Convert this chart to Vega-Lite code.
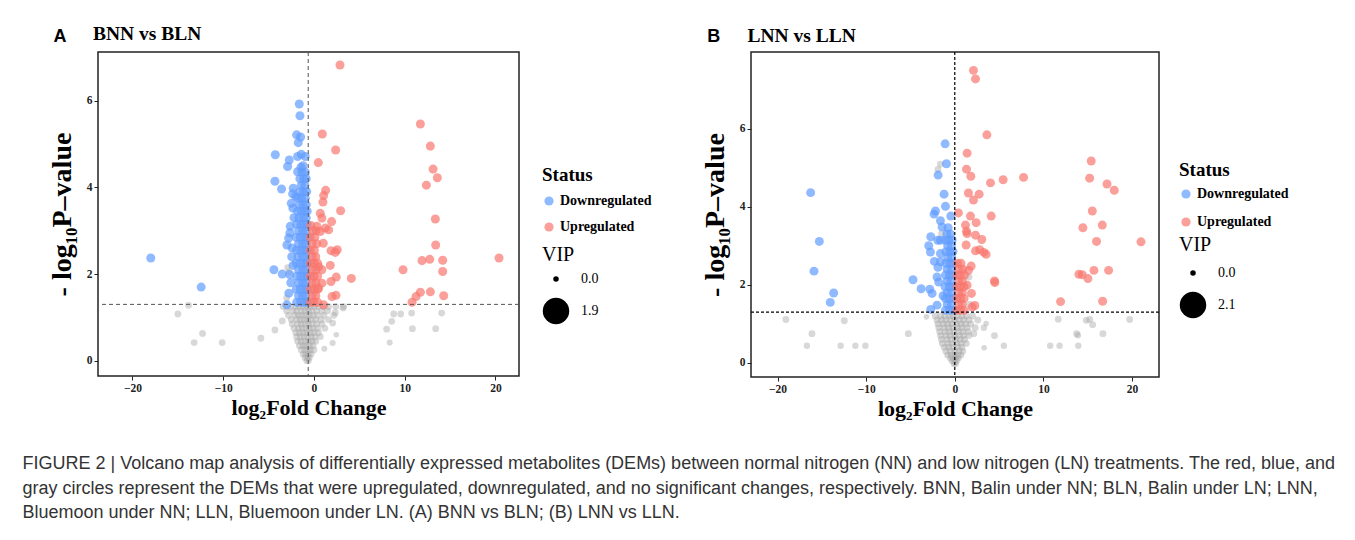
{
"$schema":"https://vega.github.io/schema/vega-lite/v6.json",
"padding":{"left":22,"top":23,"right":5,"bottom":5},
"background":"white",
"config":{
 "view":{"stroke":"#222","strokeWidth":1.5},
 "axis":{"grid":false,"domain":false,"tickColor":"#222","tickSize":4,"labelFont":"Liberation Serif","labelFontWeight":"bold","labelFontSize":11.5,"labelColor":"#222","labelPadding":2,"titleFont":"Liberation Serif","titleFontWeight":"bold","titleColor":"black"},
 "legend":{"titleFont":"Liberation Serif","labelFont":"Liberation Serif","titleColor":"black","labelColor":"black","titlePadding":4}
},
"title":{"text":["FIGURE 2 | Volcano map analysis of differentially expressed metabolites (DEMs) between normal nitrogen (NN) and low nitrogen (LN) treatments. The red, blue, and","gray circles represent the DEMs that were upregulated, downregulated, and no significant changes, respectively. BNN, Balin under NN; BLN, Balin under LN; LNN,","Bluemoon under NN; LLN, Bluemoon under LN. (A) BNN vs BLN; (B) LNN vs LLN."],"orient":"bottom","anchor":"start","frame":"bounds","font":"Liberation Sans","fontSize":18,"fontWeight":"normal","color":"#333","lineHeight":24.5,"offset":35,"dx":-25},
"datasets":{
"A":[
{"x":-17.98,"y":2.37,"s":"Down","v":1},{"x":-12.43,"y":1.70,"s":"Down","v":1},{"x":-4.26,"y":4.75,"s":"Down","v":1},{"x":-4.30,"y":4.14,"s":"Down","v":1},{"x":-3.57,"y":3.96,"s":"Down","v":1},{"x":-2.72,"y":4.63,"s":"Down","v":1},{"x":-2.90,"y":4.48,"s":"Down","v":1},{"x":-4.41,"y":2.10,"s":"Down","v":1},{"x":-3.49,"y":2.00,"s":"Down","v":1},{"x":-1.62,"y":5.92,"s":"Down","v":1},{"x":-1.54,"y":5.65,"s":"Down","v":1},{"x":-1.91,"y":5.21,"s":"Down","v":1},{"x":-1.47,"y":5.16,"s":"Down","v":1},{"x":-1.73,"y":5.03,"s":"Down","v":1},{"x":-1.40,"y":4.76,"s":"Down","v":1},{"x":-0.96,"y":4.71,"s":"Down","v":1},{"x":-1.80,"y":4.71,"s":"Down","v":1},{"x":-1.43,"y":4.46,"s":"Down","v":1},{"x":-1.80,"y":4.36,"s":"Down","v":1},{"x":-2.28,"y":3.98,"s":"Down","v":1},{"x":-2.35,"y":3.85,"s":"Down","v":1},{"x":-2.50,"y":3.63,"s":"Down","v":1},{"x":-2.32,"y":3.52,"s":"Down","v":1},{"x":-2.02,"y":3.79,"s":"Down","v":1},{"x":-2.98,"y":2.67,"s":"Down","v":1},{"x":-2.79,"y":2.83,"s":"Down","v":1},{"x":-2.61,"y":3.10,"s":"Down","v":1},{"x":-2.68,"y":1.99,"s":"Down","v":1},{"x":-2.76,"y":1.56,"s":"Down","v":1},{"x":-2.98,"y":1.29,"s":"Down","v":1},{"x":-2.45,"y":2.40,"s":"Down","v":1},{"x":-2.55,"y":1.80,"s":"Down","v":1},{"x":-2.30,"y":2.20,"s":"Down","v":1},{"x":-2.20,"y":3.30,"s":"Down","v":1},{"x":-2.65,"y":2.95,"s":"Down","v":1},{"x":-2.40,"y":2.60,"s":"Down","v":1},
{"x":-1.9,"y":1.35,"s":"Down","v":1},{"x":-1.45,"y":1.35,"s":"Down","v":1},{"x":-1.05,"y":1.35,"s":"Down","v":1},{"x":-0.75,"y":1.35,"s":"Down","v":1},
{"x":-1.7,"y":1.5,"s":"Down","v":1},{"x":-1.25,"y":1.5,"s":"Down","v":1},{"x":-0.85,"y":1.5,"s":"Down","v":1},
{"x":-1.95,"y":1.65,"s":"Down","v":1},{"x":-1.5,"y":1.65,"s":"Down","v":1},{"x":-1.05,"y":1.65,"s":"Down","v":1},{"x":-0.75,"y":1.65,"s":"Down","v":1},
{"x":-1.7,"y":1.8,"s":"Down","v":1},{"x":-1.25,"y":1.8,"s":"Down","v":1},{"x":-0.85,"y":1.8,"s":"Down","v":1},
{"x":-1.9,"y":1.95,"s":"Down","v":1},{"x":-1.45,"y":1.95,"s":"Down","v":1},{"x":-1.05,"y":1.95,"s":"Down","v":1},{"x":-0.75,"y":1.95,"s":"Down","v":1},
{"x":-1.7,"y":2.1,"s":"Down","v":1},{"x":-1.25,"y":2.1,"s":"Down","v":1},{"x":-0.85,"y":2.1,"s":"Down","v":1},
{"x":-1.95,"y":2.25,"s":"Down","v":1},{"x":-1.5,"y":2.25,"s":"Down","v":1},{"x":-1.05,"y":2.25,"s":"Down","v":1},{"x":-0.75,"y":2.25,"s":"Down","v":1},
{"x":-1.75,"y":2.4,"s":"Down","v":1},{"x":-1.25,"y":2.4,"s":"Down","v":1},{"x":-0.85,"y":2.4,"s":"Down","v":1},
{"x":-1.9,"y":2.55,"s":"Down","v":1},{"x":-1.45,"y":2.55,"s":"Down","v":1},{"x":-1.05,"y":2.55,"s":"Down","v":1},{"x":-0.75,"y":2.55,"s":"Down","v":1},
{"x":-1.7,"y":2.7,"s":"Down","v":1},{"x":-1.25,"y":2.7,"s":"Down","v":1},{"x":-0.85,"y":2.7,"s":"Down","v":1},
{"x":-1.95,"y":2.85,"s":"Down","v":1},{"x":-1.5,"y":2.85,"s":"Down","v":1},{"x":-1.05,"y":2.85,"s":"Down","v":1},{"x":-0.75,"y":2.85,"s":"Down","v":1},
{"x":-1.7,"y":3.0,"s":"Down","v":1},{"x":-1.25,"y":3.0,"s":"Down","v":1},{"x":-0.85,"y":3.0,"s":"Down","v":1},
{"x":-1.9,"y":3.15,"s":"Down","v":1},{"x":-1.45,"y":3.15,"s":"Down","v":1},{"x":-1.05,"y":3.15,"s":"Down","v":1},{"x":-0.75,"y":3.15,"s":"Down","v":1},
{"x":-1.65,"y":3.3,"s":"Down","v":1},{"x":-1.2,"y":3.3,"s":"Down","v":1},{"x":-0.85,"y":3.3,"s":"Down","v":1},
{"x":-1.8,"y":3.45,"s":"Down","v":1},{"x":-1.4,"y":3.45,"s":"Down","v":1},{"x":-1.0,"y":3.45,"s":"Down","v":1},{"x":-0.75,"y":3.45,"s":"Down","v":1},
{"x":-1.6,"y":3.6,"s":"Down","v":1},{"x":-1.2,"y":3.6,"s":"Down","v":1},{"x":-0.85,"y":3.6,"s":"Down","v":1},
{"x":-1.75,"y":3.75,"s":"Down","v":1},{"x":-1.35,"y":3.75,"s":"Down","v":1},{"x":-0.95,"y":3.75,"s":"Down","v":1},
{"x":-1.55,"y":3.9,"s":"Down","v":1},{"x":-1.15,"y":3.9,"s":"Down","v":1},{"x":-0.8,"y":3.9,"s":"Down","v":1},
{"x":-1.4,"y":4.05,"s":"Down","v":1},{"x":-1.0,"y":4.05,"s":"Down","v":1},
{"x":-1.55,"y":4.2,"s":"Down","v":1},{"x":-1.15,"y":4.2,"s":"Down","v":1},{"x":-0.85,"y":4.2,"s":"Down","v":1},
{"x":-1.3,"y":4.35,"s":"Down","v":1},{"x":-0.95,"y":4.35,"s":"Down","v":1},{"x":-1.2,"y":4.5,"s":"Down","v":1},
{"x":2.87,"y":6.82,"s":"Up","v":1},{"x":0.92,"y":5.23,"s":"Up","v":1},{"x":2.39,"y":4.86,"s":"Up","v":1},{"x":0.48,"y":4.57,"s":"Up","v":1},{"x":1.29,"y":3.93,"s":"Up","v":1},{"x":1.07,"y":3.81,"s":"Up","v":1},{"x":0.99,"y":3.66,"s":"Up","v":1},{"x":2.94,"y":3.46,"s":"Up","v":1},{"x":0.70,"y":3.40,"s":"Up","v":1},{"x":0.88,"y":3.29,"s":"Up","v":1},{"x":1.95,"y":3.21,"s":"Up","v":1},{"x":0.33,"y":3.10,"s":"Up","v":1},{"x":1.25,"y":3.06,"s":"Up","v":1},{"x":0.70,"y":2.98,"s":"Up","v":1},{"x":1.62,"y":3.02,"s":"Up","v":1},{"x":1.03,"y":2.71,"s":"Up","v":1},{"x":1.88,"y":2.54,"s":"Up","v":1},{"x":2.57,"y":2.56,"s":"Up","v":1},{"x":2.35,"y":2.50,"s":"Up","v":1},{"x":0.51,"y":2.17,"s":"Up","v":1},{"x":0.88,"y":2.10,"s":"Up","v":1},{"x":1.80,"y":2.20,"s":"Up","v":1},{"x":4.12,"y":1.90,"s":"Up","v":1},{"x":2.46,"y":1.93,"s":"Up","v":1},{"x":1.88,"y":1.83,"s":"Up","v":1},{"x":0.88,"y":1.79,"s":"Up","v":1},{"x":0.51,"y":1.67,"s":"Up","v":1},{"x":2.43,"y":1.51,"s":"Up","v":1},{"x":1.99,"y":1.48,"s":"Up","v":1},{"x":1.07,"y":1.29,"s":"Up","v":1},
{"x":11.73,"y":5.46,"s":"Up","v":1},{"x":12.83,"y":4.95,"s":"Up","v":1},{"x":13.13,"y":4.42,"s":"Up","v":1},{"x":13.60,"y":4.22,"s":"Up","v":1},{"x":12.39,"y":4.05,"s":"Up","v":1},{"x":13.38,"y":3.27,"s":"Up","v":1},{"x":13.42,"y":2.67,"s":"Up","v":1},{"x":20.40,"y":2.37,"s":"Up","v":1},{"x":11.91,"y":2.31,"s":"Up","v":1},{"x":12.76,"y":2.34,"s":"Up","v":1},{"x":14.19,"y":2.32,"s":"Up","v":1},{"x":9.82,"y":2.10,"s":"Up","v":1},{"x":14.19,"y":2.06,"s":"Up","v":1},{"x":11.73,"y":1.58,"s":"Up","v":1},{"x":12.83,"y":1.59,"s":"Up","v":1},{"x":14.30,"y":1.50,"s":"Up","v":1},{"x":11.25,"y":1.48,"s":"Up","v":1},{"x":10.81,"y":1.35,"s":"Up","v":1},
{"x":-0.4,"y":1.35,"s":"Up","v":1},{"x":0,"y":1.35,"s":"Up","v":1},{"x":0.4,"y":1.35,"s":"Up","v":1},{"x":-0.2,"y":1.5,"s":"Up","v":1},{"x":0.2,"y":1.5,"s":"Up","v":1},{"x":-0.4,"y":1.65,"s":"Up","v":1},{"x":0,"y":1.65,"s":"Up","v":1},{"x":0.4,"y":1.65,"s":"Up","v":1},{"x":-0.2,"y":1.8,"s":"Up","v":1},{"x":0.2,"y":1.8,"s":"Up","v":1},{"x":-0.4,"y":1.95,"s":"Up","v":1},{"x":0,"y":1.95,"s":"Up","v":1},{"x":0.4,"y":1.95,"s":"Up","v":1},{"x":-0.2,"y":2.1,"s":"Up","v":1},{"x":0.2,"y":2.1,"s":"Up","v":1},{"x":-0.4,"y":2.25,"s":"Up","v":1},{"x":0,"y":2.25,"s":"Up","v":1},{"x":0.4,"y":2.25,"s":"Up","v":1},{"x":-0.2,"y":2.4,"s":"Up","v":1},{"x":0.2,"y":2.4,"s":"Up","v":1},{"x":-0.4,"y":2.55,"s":"Up","v":1},{"x":0.05,"y":2.55,"s":"Up","v":1},{"x":-0.2,"y":2.7,"s":"Up","v":1},{"x":0.3,"y":2.7,"s":"Up","v":1},{"x":-0.4,"y":2.85,"s":"Up","v":1},{"x":0.1,"y":2.85,"s":"Up","v":1},{"x":-0.15,"y":3.0,"s":"Up","v":1},{"x":0.25,"y":3.0,"s":"Up","v":1},{"x":-0.35,"y":3.12,"s":"Up","v":1},
{"x":-13.82,"y":1.28,"s":"NS","v":0.75},{"x":-15.0,"y":1.08,"s":"NS","v":0.75},{"x":-12.28,"y":0.63,"s":"NS","v":0.75},{"x":-13.2,"y":0.42,"s":"NS","v":0.75},{"x":-10.11,"y":0.42,"s":"NS","v":0.75},{"x":-5.85,"y":0.52,"s":"NS","v":0.75},{"x":-4.30,"y":0.71,"s":"NS","v":0.75},{"x":-3.49,"y":0.92,"s":"NS","v":0.75},{"x":3.27,"y":1.25,"s":"NS","v":0.75},{"x":2.35,"y":1.11,"s":"NS","v":0.75},{"x":2.06,"y":0.87,"s":"NS","v":0.75},{"x":2.46,"y":0.60,"s":"NS","v":0.4},{"x":2.06,"y":0.41,"s":"NS","v":0.6},{"x":1.14,"y":0.28,"s":"NS","v":0.6},{"x":0.70,"y":0.56,"s":"NS","v":0.75},{"x":8.79,"y":1.08,"s":"NS","v":0.75},{"x":9.56,"y":1.08,"s":"NS","v":0.75},{"x":10.77,"y":1.10,"s":"NS","v":0.75},{"x":14.08,"y":1.10,"s":"NS","v":0.75},{"x":8.57,"y":0.91,"s":"NS","v":0.75},{"x":8.01,"y":0.73,"s":"NS","v":0.75},{"x":10.85,"y":0.74,"s":"NS","v":0.75},{"x":13.42,"y":0.74,"s":"NS","v":0.75},{"x":8.35,"y":0.42,"s":"NS","v":0.6},{"x":-2.9,"y":2.15,"s":"NS","v":0.75},{"x":-2.75,"y":2.05,"s":"NS","v":0.75},{"x":-3.0,"y":1.45,"s":"NS","v":0.75},{"x":3.2,"y":1.22,"s":"NS","v":0.75},
{"x":-3.4,"y":1.25,"s":"NS","v":0.75},{"x":-2.6,"y":1.25,"s":"NS","v":0.75},{"x":-2.0,"y":1.25,"s":"NS","v":0.75},{"x":-1.6,"y":1.25,"s":"NS","v":0.75},{"x":-1.2,"y":1.25,"s":"NS","v":0.75},{"x":-0.8,"y":1.25,"s":"NS","v":0.75},{"x":-0.4,"y":1.25,"s":"NS","v":0.75},{"x":0,"y":1.25,"s":"NS","v":0.75},{"x":0.5,"y":1.25,"s":"NS","v":0.75},{"x":1.0,"y":1.25,"s":"NS","v":0.75},{"x":1.6,"y":1.25,"s":"NS","v":0.75},{"x":2.4,"y":1.25,"s":"NS","v":0.75},
{"x":-3.0,"y":1.15,"s":"NS","v":0.75},{"x":-2.3,"y":1.15,"s":"NS","v":0.75},{"x":-1.9,"y":1.15,"s":"NS","v":0.75},{"x":-1.4,"y":1.15,"s":"NS","v":0.75},{"x":-1.0,"y":1.15,"s":"NS","v":0.75},{"x":-0.6,"y":1.15,"s":"NS","v":0.75},{"x":-0.2,"y":1.15,"s":"NS","v":0.75},{"x":0.3,"y":1.15,"s":"NS","v":0.75},{"x":0.9,"y":1.15,"s":"NS","v":0.75},{"x":1.5,"y":1.15,"s":"NS","v":0.75},
{"x":-2.8,"y":1.05,"s":"NS","v":0.75},{"x":-2.1,"y":1.05,"s":"NS","v":0.75},{"x":-1.7,"y":1.05,"s":"NS","v":0.75},{"x":-1.3,"y":1.05,"s":"NS","v":0.75},{"x":-0.9,"y":1.05,"s":"NS","v":0.75},{"x":-0.5,"y":1.05,"s":"NS","v":0.75},{"x":-0.1,"y":1.05,"s":"NS","v":0.75},{"x":0.4,"y":1.05,"s":"NS","v":0.75},{"x":1.1,"y":1.05,"s":"NS","v":0.75},{"x":2.2,"y":1.05,"s":"NS","v":0.75},
{"x":-2.5,"y":0.95,"s":"NS","v":0.75},{"x":-1.9,"y":0.95,"s":"NS","v":0.75},{"x":-1.5,"y":0.95,"s":"NS","v":0.75},{"x":-1.1,"y":0.95,"s":"NS","v":0.75},{"x":-0.7,"y":0.95,"s":"NS","v":0.75},{"x":-0.3,"y":0.95,"s":"NS","v":0.75},{"x":0.2,"y":0.95,"s":"NS","v":0.75},{"x":0.8,"y":0.95,"s":"NS","v":0.75},{"x":1.6,"y":0.95,"s":"NS","v":0.75},
{"x":-2.4,"y":0.85,"s":"NS","v":0.75},{"x":-1.8,"y":0.85,"s":"NS","v":0.75},{"x":-1.4,"y":0.85,"s":"NS","v":0.75},{"x":-1.0,"y":0.85,"s":"NS","v":0.75},{"x":-0.6,"y":0.85,"s":"NS","v":0.75},{"x":-0.2,"y":0.85,"s":"NS","v":0.75},{"x":0.3,"y":0.85,"s":"NS","v":0.75},{"x":0.9,"y":0.85,"s":"NS","v":0.75},
{"x":-2.2,"y":0.75,"s":"NS","v":0.75},{"x":-1.7,"y":0.75,"s":"NS","v":0.75},{"x":-1.3,"y":0.75,"s":"NS","v":0.75},{"x":-0.9,"y":0.75,"s":"NS","v":0.75},{"x":-0.5,"y":0.75,"s":"NS","v":0.75},{"x":-0.1,"y":0.75,"s":"NS","v":0.75},{"x":0.4,"y":0.75,"s":"NS","v":0.75},{"x":1.2,"y":0.75,"s":"NS","v":0.75},
{"x":-2.0,"y":0.65,"s":"NS","v":0.75},{"x":-1.6,"y":0.65,"s":"NS","v":0.75},{"x":-1.2,"y":0.65,"s":"NS","v":0.75},{"x":-0.8,"y":0.65,"s":"NS","v":0.75},{"x":-0.4,"y":0.65,"s":"NS","v":0.75},{"x":0.0,"y":0.65,"s":"NS","v":0.75},{"x":0.5,"y":0.65,"s":"NS","v":0.75},
{"x":-1.9,"y":0.55,"s":"NS","v":0.75},{"x":-1.5,"y":0.55,"s":"NS","v":0.75},{"x":-1.1,"y":0.55,"s":"NS","v":0.75},{"x":-0.7,"y":0.55,"s":"NS","v":0.75},{"x":-0.3,"y":0.55,"s":"NS","v":0.75},{"x":0.1,"y":0.55,"s":"NS","v":0.75},
{"x":-1.8,"y":0.45,"s":"NS","v":0.75},{"x":-1.4,"y":0.45,"s":"NS","v":0.75},{"x":-1.0,"y":0.45,"s":"NS","v":0.75},{"x":-0.6,"y":0.45,"s":"NS","v":0.75},{"x":-0.2,"y":0.45,"s":"NS","v":0.75},{"x":0.2,"y":0.45,"s":"NS","v":0.75},
{"x":-1.6,"y":0.35,"s":"NS","v":0.75},{"x":-1.2,"y":0.35,"s":"NS","v":0.75},{"x":-0.9,"y":0.35,"s":"NS","v":0.75},{"x":-0.5,"y":0.35,"s":"NS","v":0.75},{"x":-0.1,"y":0.35,"s":"NS","v":0.75},
{"x":-1.4,"y":0.25,"s":"NS","v":0.75},{"x":-1.0,"y":0.25,"s":"NS","v":0.75},{"x":-0.7,"y":0.25,"s":"NS","v":0.75},{"x":-0.4,"y":0.25,"s":"NS","v":0.75},{"x":0.0,"y":0.25,"s":"NS","v":0.75},
{"x":-1.2,"y":0.15,"s":"NS","v":0.7},{"x":-0.9,"y":0.15,"s":"NS","v":0.7},{"x":-0.6,"y":0.15,"s":"NS","v":0.7},{"x":-0.3,"y":0.15,"s":"NS","v":0.7},
{"x":-1.0,"y":0.07,"s":"NS","v":0.7},{"x":-0.7,"y":0.07,"s":"NS","v":0.7},{"x":-0.5,"y":0.07,"s":"NS","v":0.7},{"x":-0.8,"y":0.0,"s":"NS","v":0.7},{"x":-0.6,"y":0.0,"s":"NS","v":0.7}
],
"B":[
{"x":-16.27,"y":4.36,"s":"Down","v":1.1},{"x":-15.29,"y":3.11,"s":"Down","v":1.1},{"x":-15.89,"y":2.35,"s":"Down","v":1.1},{"x":-13.67,"y":1.79,"s":"Down","v":1.1},{"x":-14.05,"y":1.55,"s":"Down","v":1.1},{"x":-1.09,"y":5.61,"s":"Down","v":1.1},{"x":-0.94,"y":5.10,"s":"Down","v":1.1},{"x":-1.88,"y":4.81,"s":"Down","v":1.1},{"x":-1.21,"y":4.32,"s":"Down","v":1.1},{"x":-1.05,"y":4.01,"s":"Down","v":1.1},{"x":-2.18,"y":3.89,"s":"Down","v":1.1},{"x":-2.34,"y":3.81,"s":"Down","v":1.1},{"x":-0.45,"y":3.76,"s":"Down","v":1.1},{"x":-1.62,"y":3.64,"s":"Down","v":1.1},{"x":-1.43,"y":3.48,"s":"Down","v":1.1},{"x":-0.75,"y":3.46,"s":"Down","v":1.1},{"x":-2.71,"y":3.23,"s":"Down","v":1.1},{"x":-1.92,"y":3.14,"s":"Down","v":1.1},{"x":-1.62,"y":3.14,"s":"Down","v":1.1},{"x":-1.05,"y":3.14,"s":"Down","v":1.1},{"x":-2.94,"y":3.0,"s":"Down","v":1.1},{"x":-2.75,"y":2.84,"s":"Down","v":1.1},{"x":-1.62,"y":2.80,"s":"Down","v":1.1},{"x":-1.62,"y":2.59,"s":"Down","v":1.1},{"x":-4.71,"y":2.13,"s":"Down","v":1.1},{"x":-3.80,"y":1.90,"s":"Down","v":1.1},{"x":-2.82,"y":1.89,"s":"Down","v":1.1},{"x":-2.56,"y":1.78,"s":"Down","v":1.1},{"x":-2.0,"y":2.2,"s":"Down","v":1.1},{"x":-1.81,"y":2.07,"s":"Down","v":1.1},{"x":-1.32,"y":1.72,"s":"Down","v":1.1},{"x":-2.0,"y":1.48,"s":"Down","v":1.1},{"x":-2.71,"y":1.37,"s":"Down","v":1.1},{"x":-1.9,"y":2.45,"s":"Down","v":1.1},{"x":-2.3,"y":2.6,"s":"Down","v":1.1},
{"x":-1.05,"y":1.35,"s":"Down","v":1.1},{"x":-0.6,"y":1.35,"s":"Down","v":1.1},{"x":-0.2,"y":1.35,"s":"Down","v":1.1},{"x":-0.85,"y":1.5,"s":"Down","v":1.1},{"x":-0.4,"y":1.5,"s":"Down","v":1.1},{"x":-1.05,"y":1.65,"s":"Down","v":1.1},{"x":-0.6,"y":1.65,"s":"Down","v":1.1},{"x":-0.2,"y":1.65,"s":"Down","v":1.1},{"x":-0.85,"y":1.8,"s":"Down","v":1.1},{"x":-0.4,"y":1.8,"s":"Down","v":1.1},{"x":-1.1,"y":1.95,"s":"Down","v":1.1},{"x":-0.6,"y":1.95,"s":"Down","v":1.1},{"x":-0.2,"y":1.95,"s":"Down","v":1.1},{"x":-0.85,"y":2.1,"s":"Down","v":1.1},{"x":-0.4,"y":2.1,"s":"Down","v":1.1},{"x":-1.05,"y":2.25,"s":"Down","v":1.1},{"x":-0.6,"y":2.25,"s":"Down","v":1.1},{"x":-0.2,"y":2.25,"s":"Down","v":1.1},{"x":-0.85,"y":2.4,"s":"Down","v":1.1},{"x":-0.4,"y":2.4,"s":"Down","v":1.1},{"x":-1.0,"y":2.55,"s":"Down","v":1.1},{"x":-0.55,"y":2.55,"s":"Down","v":1.1},{"x":-0.2,"y":2.55,"s":"Down","v":1.1},{"x":-0.8,"y":2.7,"s":"Down","v":1.1},{"x":-0.35,"y":2.7,"s":"Down","v":1.1},{"x":-1.0,"y":2.85,"s":"Down","v":1.1},{"x":-0.55,"y":2.85,"s":"Down","v":1.1},{"x":-0.2,"y":2.85,"s":"Down","v":1.1},{"x":-0.8,"y":3.0,"s":"Down","v":1.1},{"x":-0.4,"y":3.0,"s":"Down","v":1.1},{"x":-0.7,"y":3.15,"s":"Down","v":1.1},{"x":-0.3,"y":3.15,"s":"Down","v":1.1},{"x":-0.9,"y":3.3,"s":"Down","v":1.1},{"x":-0.5,"y":3.3,"s":"Down","v":1.1},
{"x":2.11,"y":7.49,"s":"Up","v":1.1},{"x":2.34,"y":7.27,"s":"Up","v":1.1},{"x":3.62,"y":5.84,"s":"Up","v":1.1},{"x":1.39,"y":5.37,"s":"Up","v":1.1},{"x":1.32,"y":4.96,"s":"Up","v":1.1},{"x":1.81,"y":4.78,"s":"Up","v":1.1},{"x":4.03,"y":4.61,"s":"Up","v":1.1},{"x":5.46,"y":4.69,"s":"Up","v":1.1},{"x":7.76,"y":4.75,"s":"Up","v":1.1},{"x":1.54,"y":4.35,"s":"Up","v":1.1},{"x":2.75,"y":4.32,"s":"Up","v":1.1},{"x":2.11,"y":4.17,"s":"Up","v":1.1},{"x":0.41,"y":3.84,"s":"Up","v":1.1},{"x":1.77,"y":3.76,"s":"Up","v":1.1},{"x":4.11,"y":3.76,"s":"Up","v":1.1},{"x":2.41,"y":3.59,"s":"Up","v":1.1},{"x":1.21,"y":3.53,"s":"Up","v":1.1},{"x":1.32,"y":3.37,"s":"Up","v":1.1},{"x":1.39,"y":3.31,"s":"Up","v":1.1},{"x":2.34,"y":3.27,"s":"Up","v":1.1},{"x":3.05,"y":3.16,"s":"Up","v":1.1},{"x":1.28,"y":3.02,"s":"Up","v":1.1},{"x":2.34,"y":2.87,"s":"Up","v":1.1},{"x":2.82,"y":2.90,"s":"Up","v":1.1},{"x":3.28,"y":2.83,"s":"Up","v":1.1},{"x":3.54,"y":2.78,"s":"Up","v":1.1},{"x":1.85,"y":2.48,"s":"Up","v":1.1},{"x":1.54,"y":2.37,"s":"Up","v":1.1},{"x":4.48,"y":2.10,"s":"Up","v":1.1},{"x":4.52,"y":2.06,"s":"Up","v":1.1},{"x":1.39,"y":1.99,"s":"Up","v":1.1},{"x":1.88,"y":1.78,"s":"Up","v":1.1},{"x":2.26,"y":1.47,"s":"Up","v":1.1},{"x":1.96,"y":1.43,"s":"Up","v":1.1},
{"x":15.40,"y":5.17,"s":"Up","v":1.1},{"x":15.22,"y":4.73,"s":"Up","v":1.1},{"x":17.18,"y":4.58,"s":"Up","v":1.1},{"x":18.0,"y":4.42,"s":"Up","v":1.1},{"x":15.52,"y":3.89,"s":"Up","v":1.1},{"x":16.65,"y":3.53,"s":"Up","v":1.1},{"x":14.46,"y":3.46,"s":"Up","v":1.1},{"x":16.0,"y":3.11,"s":"Up","v":1.1},{"x":21.02,"y":3.10,"s":"Up","v":1.1},{"x":15.71,"y":2.37,"s":"Up","v":1.1},{"x":17.36,"y":2.37,"s":"Up","v":1.1},{"x":14.01,"y":2.27,"s":"Up","v":1.1},{"x":14.39,"y":2.26,"s":"Up","v":1.1},{"x":15.03,"y":2.16,"s":"Up","v":1.1},{"x":11.94,"y":1.57,"s":"Up","v":1.1},{"x":16.69,"y":1.58,"s":"Up","v":1.1},
{"x":0.25,"y":1.35,"s":"Up","v":1.1},{"x":0.65,"y":1.35,"s":"Up","v":1.1},{"x":1.05,"y":1.35,"s":"Up","v":1.1},{"x":0.45,"y":1.5,"s":"Up","v":1.1},{"x":0.85,"y":1.5,"s":"Up","v":1.1},{"x":0.25,"y":1.65,"s":"Up","v":1.1},{"x":0.65,"y":1.65,"s":"Up","v":1.1},{"x":1.05,"y":1.65,"s":"Up","v":1.1},{"x":0.45,"y":1.8,"s":"Up","v":1.1},{"x":0.85,"y":1.8,"s":"Up","v":1.1},{"x":0.25,"y":1.95,"s":"Up","v":1.1},{"x":0.65,"y":1.95,"s":"Up","v":1.1},{"x":1.05,"y":1.95,"s":"Up","v":1.1},{"x":0.45,"y":2.1,"s":"Up","v":1.1},{"x":0.85,"y":2.1,"s":"Up","v":1.1},{"x":0.25,"y":2.25,"s":"Up","v":1.1},{"x":0.65,"y":2.25,"s":"Up","v":1.1},{"x":1.1,"y":2.25,"s":"Up","v":1.1},{"x":0.45,"y":2.4,"s":"Up","v":1.1},{"x":0.9,"y":2.4,"s":"Up","v":1.1},{"x":0.3,"y":2.55,"s":"Up","v":1.1},{"x":0.7,"y":2.55,"s":"Up","v":1.1},
{"x":-19.06,"y":1.11,"s":"NS","v":0.85},{"x":-12.47,"y":1.08,"s":"NS","v":0.85},{"x":-16.12,"y":0.75,"s":"NS","v":0.85},{"x":-16.69,"y":0.44,"s":"NS","v":0.75},{"x":-12.88,"y":0.44,"s":"NS","v":0.75},{"x":-11.22,"y":0.44,"s":"NS","v":0.75},{"x":-10.09,"y":0.44,"s":"NS","v":0.75},{"x":-5.24,"y":0.75,"s":"NS","v":0.85},{"x":-3.20,"y":1.18,"s":"NS","v":0.45},{"x":4.48,"y":0.70,"s":"NS","v":0.85},{"x":5.54,"y":0.44,"s":"NS","v":0.75},{"x":3.31,"y":0.39,"s":"NS","v":0.45},{"x":3.54,"y":1.01,"s":"NS","v":0.45},{"x":3.28,"y":0.90,"s":"NS","v":0.75},{"x":2.15,"y":0.75,"s":"NS","v":0.85},{"x":11.68,"y":1.12,"s":"NS","v":0.85},{"x":14.84,"y":1.09,"s":"NS","v":0.85},{"x":15.22,"y":1.11,"s":"NS","v":0.85},{"x":15.56,"y":0.98,"s":"NS","v":0.85},{"x":19.74,"y":1.11,"s":"NS","v":0.85},{"x":13.75,"y":0.75,"s":"NS","v":0.85},{"x":13.9,"y":0.71,"s":"NS","v":0.75},{"x":16.72,"y":0.75,"s":"NS","v":0.85},{"x":10.77,"y":0.44,"s":"NS","v":0.75},{"x":11.83,"y":0.44,"s":"NS","v":0.75},{"x":13.94,"y":0.44,"s":"NS","v":0.75},{"x":-1.62,"y":5.09,"s":"NS","v":0.85},{"x":-1.9,"y":4.95,"s":"NS","v":0.85},{"x":-1.5,"y":3.3,"s":"NS","v":0.85},{"x":1.6,"y":2.2,"s":"NS","v":0.85},{"x":1.7,"y":1.5,"s":"NS","v":0.85},
{"x":-2.2,"y":1.2,"s":"NS","v":0.85},{"x":-1.6,"y":1.2,"s":"NS","v":0.85},{"x":-1.1,"y":1.2,"s":"NS","v":0.85},{"x":-0.6,"y":1.2,"s":"NS","v":0.85},{"x":-0.2,"y":1.2,"s":"NS","v":0.85},{"x":0.3,"y":1.2,"s":"NS","v":0.85},{"x":0.8,"y":1.2,"s":"NS","v":0.85},{"x":1.3,"y":1.2,"s":"NS","v":0.85},{"x":2.0,"y":1.2,"s":"NS","v":0.85},
{"x":-2.0,"y":1.1,"s":"NS","v":0.85},{"x":-1.5,"y":1.1,"s":"NS","v":0.85},{"x":-1.0,"y":1.1,"s":"NS","v":0.85},{"x":-0.5,"y":1.1,"s":"NS","v":0.85},{"x":0,"y":1.1,"s":"NS","v":0.85},{"x":0.5,"y":1.1,"s":"NS","v":0.85},{"x":1.0,"y":1.1,"s":"NS","v":0.85},{"x":1.6,"y":1.1,"s":"NS","v":0.85},{"x":2.6,"y":1.1,"s":"NS","v":0.85},
{"x":-1.9,"y":1.0,"s":"NS","v":0.85},{"x":-1.3,"y":1.0,"s":"NS","v":0.85},{"x":-0.8,"y":1.0,"s":"NS","v":0.85},{"x":-0.3,"y":1.0,"s":"NS","v":0.85},{"x":0.2,"y":1.0,"s":"NS","v":0.85},{"x":0.7,"y":1.0,"s":"NS","v":0.85},{"x":1.2,"y":1.0,"s":"NS","v":0.85},{"x":1.8,"y":1.0,"s":"NS","v":0.85},
{"x":-1.8,"y":0.9,"s":"NS","v":0.85},{"x":-1.2,"y":0.9,"s":"NS","v":0.85},{"x":-0.7,"y":0.9,"s":"NS","v":0.85},{"x":-0.2,"y":0.9,"s":"NS","v":0.85},{"x":0.3,"y":0.9,"s":"NS","v":0.85},{"x":0.8,"y":0.9,"s":"NS","v":0.85},{"x":1.4,"y":0.9,"s":"NS","v":0.85},{"x":2.3,"y":0.9,"s":"NS","v":0.85},
{"x":-1.7,"y":0.8,"s":"NS","v":0.85},{"x":-1.1,"y":0.8,"s":"NS","v":0.85},{"x":-0.6,"y":0.8,"s":"NS","v":0.85},{"x":-0.1,"y":0.8,"s":"NS","v":0.85},{"x":0.4,"y":0.8,"s":"NS","v":0.85},{"x":0.9,"y":0.8,"s":"NS","v":0.85},{"x":1.5,"y":0.8,"s":"NS","v":0.85},
{"x":-1.6,"y":0.7,"s":"NS","v":0.85},{"x":-1.0,"y":0.7,"s":"NS","v":0.85},{"x":-0.5,"y":0.7,"s":"NS","v":0.85},{"x":0,"y":0.7,"s":"NS","v":0.85},{"x":0.5,"y":0.7,"s":"NS","v":0.85},{"x":1.0,"y":0.7,"s":"NS","v":0.85},{"x":1.6,"y":0.7,"s":"NS","v":0.85},
{"x":-1.5,"y":0.6,"s":"NS","v":0.85},{"x":-0.9,"y":0.6,"s":"NS","v":0.85},{"x":-0.4,"y":0.6,"s":"NS","v":0.85},{"x":0.1,"y":0.6,"s":"NS","v":0.85},{"x":0.6,"y":0.6,"s":"NS","v":0.85},{"x":1.1,"y":0.6,"s":"NS","v":0.85},
{"x":-1.4,"y":0.5,"s":"NS","v":0.85},{"x":-0.8,"y":0.5,"s":"NS","v":0.85},{"x":-0.3,"y":0.5,"s":"NS","v":0.85},{"x":0.2,"y":0.5,"s":"NS","v":0.85},{"x":0.7,"y":0.5,"s":"NS","v":0.85},{"x":1.3,"y":0.5,"s":"NS","v":0.85},
{"x":-1.2,"y":0.4,"s":"NS","v":0.85},{"x":-0.7,"y":0.4,"s":"NS","v":0.85},{"x":-0.2,"y":0.4,"s":"NS","v":0.85},{"x":0.3,"y":0.4,"s":"NS","v":0.85},{"x":0.8,"y":0.4,"s":"NS","v":0.85},
{"x":-1.0,"y":0.3,"s":"NS","v":0.85},{"x":-0.5,"y":0.3,"s":"NS","v":0.85},{"x":0,"y":0.3,"s":"NS","v":0.85},{"x":0.5,"y":0.3,"s":"NS","v":0.85},{"x":0.9,"y":0.3,"s":"NS","v":0.85},
{"x":-0.8,"y":0.2,"s":"NS","v":0.8},{"x":-0.4,"y":0.2,"s":"NS","v":0.8},{"x":0,"y":0.2,"s":"NS","v":0.8},{"x":0.4,"y":0.2,"s":"NS","v":0.8},{"x":0.7,"y":0.2,"s":"NS","v":0.8},
{"x":-0.5,"y":0.12,"s":"NS","v":0.8},{"x":-0.2,"y":0.12,"s":"NS","v":0.8},{"x":0.1,"y":0.12,"s":"NS","v":0.8},{"x":0.4,"y":0.12,"s":"NS","v":0.8},
{"x":-0.3,"y":0.05,"s":"NS","v":0.8},{"x":0,"y":0.05,"s":"NS","v":0.8},{"x":0.2,"y":0.05,"s":"NS","v":0.8},{"x":-0.1,"y":-0.02,"s":"NS","v":0.8},{"x":0.1,"y":-0.02,"s":"NS","v":0.8}
]
},
"spacing":47,
"hconcat":[
{
 "width":421,"height":324,
 "layer":[
  {"data":{"name":"A"},"transform":[{"filter":"datum.s == 'NS'"}],
   "mark":{"type":"circle","opacity":0.45},
   "encoding":{
    "x":{"field":"x","type":"quantitative","scale":{"domain":[-23.8,22.6],"nice":false,"zero":false},"axis":{"values":[-20,-10,0,10,20],"title":"log₂Fold Change","titleFontSize":22,"titlePadding":4}},
    "y":{"field":"y","type":"quantitative","scale":{"domain":[-0.35,7.12],"nice":false,"zero":false},"axis":{"values":[0,2,4,6],"title":"- log₁₀P–value","titleFontSize":28,"titlePadding":10}},
    "color":{"field":"s","type":"nominal","scale":{"domain":["Down","Up","NS"],"range":["#619CFF","#F8766D","#A9A9A9"]},"legend":{"title":"Status","values":["Down","Up"],"orient":"none","legendX":444,"legendY":114,"labelExpr":"datum.label == 'Down' ? 'Downregulated' : 'Upregulated'","titleFontSize":19,"titleFontWeight":"bold","titlePadding":9,"labelFontSize":14,"labelFontWeight":"bold","symbolOpacity":0.55,"symbolSize":85,"symbolStrokeWidth":0,"rowPadding":12}},
    "size":{"field":"v","type":"quantitative","scale":{"type":"pow","exponent":4,"domain":[0,1.9],"range":[30,700]},"legend":{"title":"VIP","orient":"none","legendX":444,"legendY":193,"values":[0,1.9],"format":".1f","titleFontSize":20,"titleFontWeight":"normal","titlePadding":7,"labelFontSize":14,"labelFontWeight":"normal","labelOffset":11,"rowPadding":8,"symbolFillColor":"black","symbolStrokeColor":"black","symbolOpacity":1,"encode":{"symbols":{"update":{"fill":{"value":"black"},"fillOpacity":{"value":1},"opacity":{"value":1}}}}}}
   }},
  {"data":{"name":"A"},"transform":[{"filter":"datum.s != 'NS'"}],
   "mark":{"type":"circle","opacity":0.7},
   "encoding":{
    "x":{"field":"x","type":"quantitative"},
    "y":{"field":"y","type":"quantitative"},
    "size":{"field":"v","type":"quantitative"},
    "color":{"field":"s","type":"nominal"}
   }},
  {"data":{"values":[{}]},"mark":{"type":"rule","color":"#555","strokeDash":[4,3],"strokeWidth":1},"encoding":{"x":{"datum":-0.63,"type":"quantitative"}}},
  {"data":{"values":[{}]},"mark":{"type":"rule","color":"#555","strokeDash":[4,3],"strokeWidth":1},"encoding":{"y":{"datum":1.301,"type":"quantitative"}}},
  {"data":{"values":[{}]},"mark":{"type":"text","text":"A","font":"Liberation Sans","fontSize":18,"fontWeight":"bold","align":"center","baseline":"alphabetic","color":"black"},"encoding":{"x":{"datum":-28.0,"type":"quantitative"},"y":{"datum":7.35,"type":"quantitative"}}},
  {"data":{"values":[{}]},"mark":{"type":"text","text":"BNN vs BLN","font":"Liberation Serif","fontSize":19.5,"fontWeight":"bold","align":"left","baseline":"alphabetic","color":"black"},"encoding":{"x":{"datum":-24.35,"type":"quantitative"},"y":{"datum":7.40,"type":"quantitative"}}}
 ]
},
{
 "width":408,"height":325,
 "layer":[
  {"data":{"name":"B"},"transform":[{"filter":"datum.s == 'NS'"}],
   "mark":{"type":"circle","opacity":0.45},
   "encoding":{
    "x":{"field":"x","type":"quantitative","scale":{"domain":[-23,23.05],"nice":false,"zero":false},"axis":{"values":[-20,-10,0,10,20],"title":"log₂Fold Change","titleFontSize":22,"titlePadding":4}},
    "y":{"field":"y","type":"quantitative","scale":{"domain":[-0.36,7.96],"nice":false,"zero":false},"axis":{"values":[0,2,4,6],"title":"- log₁₀P–value","titleFontSize":28,"titlePadding":10}},
    "color":{"field":"s","type":"nominal","scale":{"domain":["Down","Up","NS"],"range":["#619CFF","#F8766D","#A9A9A9"]},"legend":{"title":"Status","values":["Down","Up"],"orient":"none","legendX":428,"legendY":109,"labelExpr":"datum.label == 'Down' ? 'Downregulated' : 'Upregulated'","titleFontSize":19,"titleFontWeight":"bold","titlePadding":7,"labelFontSize":14,"labelFontWeight":"bold","symbolOpacity":0.55,"symbolSize":85,"symbolStrokeWidth":0,"rowPadding":14}},
    "size":{"field":"v","type":"quantitative","scale":{"type":"pow","exponent":4,"domain":[0,2.1],"range":[30,700]},"legend":{"title":"VIP","orient":"none","legendX":428,"legendY":183,"values":[0,2.1],"format":".1f","titleFontSize":20,"titleFontWeight":"normal","titlePadding":11,"labelFontSize":14,"labelFontWeight":"normal","labelOffset":11,"rowPadding":8,"symbolFillColor":"black","symbolStrokeColor":"black","symbolOpacity":1,"encode":{"symbols":{"update":{"fill":{"value":"black"},"fillOpacity":{"value":1},"opacity":{"value":1}}}}}}
   }},
  {"data":{"name":"B"},"transform":[{"filter":"datum.s != 'NS'"}],
   "mark":{"type":"circle","opacity":0.7},
   "encoding":{
    "x":{"field":"x","type":"quantitative"},
    "y":{"field":"y","type":"quantitative"},
    "size":{"field":"v","type":"quantitative"},
    "color":{"field":"s","type":"nominal"}
   }},
  {"data":{"values":[{}]},"mark":{"type":"rule","color":"black","strokeDash":[3,2],"strokeWidth":1.2},"encoding":{"x":{"datum":0,"type":"quantitative"}}},
  {"data":{"values":[{}]},"mark":{"type":"rule","color":"black","strokeDash":[3,2],"strokeWidth":1.2},"encoding":{"y":{"datum":1.301,"type":"quantitative"}}},
  {"data":{"values":[{}]},"mark":{"type":"text","text":"B","font":"Liberation Sans","fontSize":18,"fontWeight":"bold","align":"center","baseline":"alphabetic","color":"black"},"encoding":{"x":{"datum":-27.2,"type":"quantitative"},"y":{"datum":8.21,"type":"quantitative"}}},
  {"data":{"values":[{}]},"mark":{"type":"text","text":"LNN vs LLN","font":"Liberation Serif","fontSize":19.5,"fontWeight":"bold","align":"left","baseline":"alphabetic","color":"black"},"encoding":{"x":{"datum":-23.4,"type":"quantitative"},"y":{"datum":8.21,"type":"quantitative"}}}
 ]
}
],
"resolve":{"scale":{"color":"independent","size":"independent"},"legend":{"color":"independent","size":"independent"}}
}
